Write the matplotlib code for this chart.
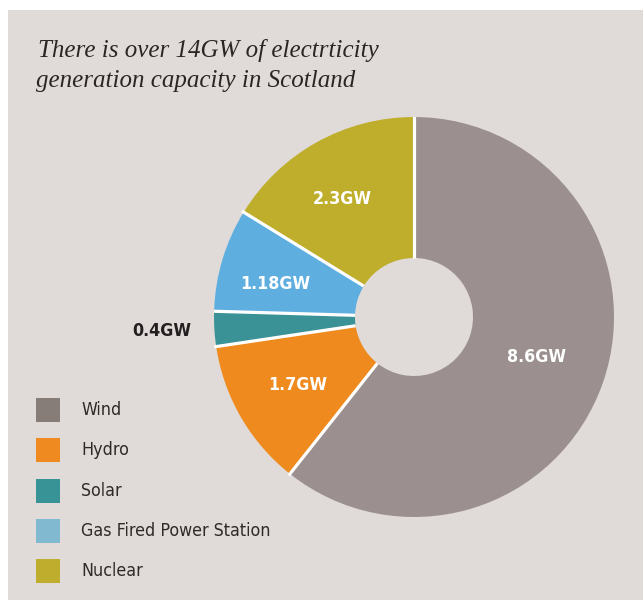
import numpy as np
import matplotlib.pyplot as plt
from matplotlib.patches import Rectangle

# capacity in Scotland (GW)
sources = ["Wind", "Hydro", "Solar", "Gas Fired Power Station", "Nuclear"]
capacity = [8.6, 1.7, 0.4, 1.18, 2.3]
labels = ["8.6GW", "1.7GW", "0.4GW", "1.18GW", "2.3GW"]
wedge_colors = ["#9b908f", "#ee8a1e", "#3a9296", "#5eaee0", "#bfae2c"]
legend_colors = ["#867c78", "#ee8a20", "#389396", "#80b9d0", "#bfae2d"]

W, H = 643, 600
fig = plt.figure(figsize=(W / 100, H / 100), dpi=100)
fig.patch.set_facecolor("white")
fig.patches.append(Rectangle((8 / W, 0), 1, 1 - 10 / H, transform=fig.transFigure,
                             facecolor="#e0dbd8", edgecolor="none", zorder=-5))

title_font = dict(family="Liberation Serif", style="italic", fontsize=18, color="#2a2626", va="baseline")
fig.text(38 / W, 1 - 57 / H, "There is over 14GW of electrticity", **title_font)
fig.text(36 / W, 1 - 87 / H, "generation capacity in Scotland", **title_font)

# pie (donut), white separators only between wedges
ax = fig.add_axes([214 / W, 1 - 517 / H, 400 / W, 400 / H])
ax.set_facecolor("none")
r_in = 0.295
wedges, _ = ax.pie(capacity, colors=wedge_colors, startangle=90, counterclock=False,
                   radius=1, wedgeprops=dict(width=1 - r_in, edgecolor="none", linewidth=0))
bounds = 90 - 360 * np.cumsum([0] + capacity[:-1]) / sum(capacity)
for a in np.deg2rad(bounds):
    ax.plot([r_in * np.cos(a), 1.01 * np.cos(a)], [r_in * np.sin(a), 1.01 * np.sin(a)],
            color="white", lw=2.3, solid_capstyle="butt")
ax.set_xlim(-1, 1)
ax.set_ylim(-1, 1)
ax.set_aspect("equal")
ax.axis("off")

lab_font = dict(family="DejaVu Sans", stretch="condensed", weight="bold", fontsize=12.8,
                ha="center", va="center")
lab_pos = [(0.61, -0.2), (-0.58, -0.34), (-1.26, -0.07), (-0.695, 0.165), (-0.36, 0.59)]
for lab, (x, y) in zip(labels, lab_pos):
    c = "#231f20" if lab == "0.4GW" else "white"
    ax.text(x, y, lab, color=c, **lab_font)

# legend
for i, (name, col) in enumerate(zip(sources, legend_colors)):
    yc = 410 + i * 40.3
    fig.patches.append(Rectangle((36 / W, 1 - (yc + 12) / H), 24 / W, 24 / H,
                                 transform=fig.transFigure, facecolor=col, edgecolor="none"))
    fig.text(81 / W, 1 - yc / H, name, family="DejaVu Sans", stretch="condensed",
             fontsize=12.8, color="#2e2a2a", va="center")

fig.savefig("out.png", dpi=100)
